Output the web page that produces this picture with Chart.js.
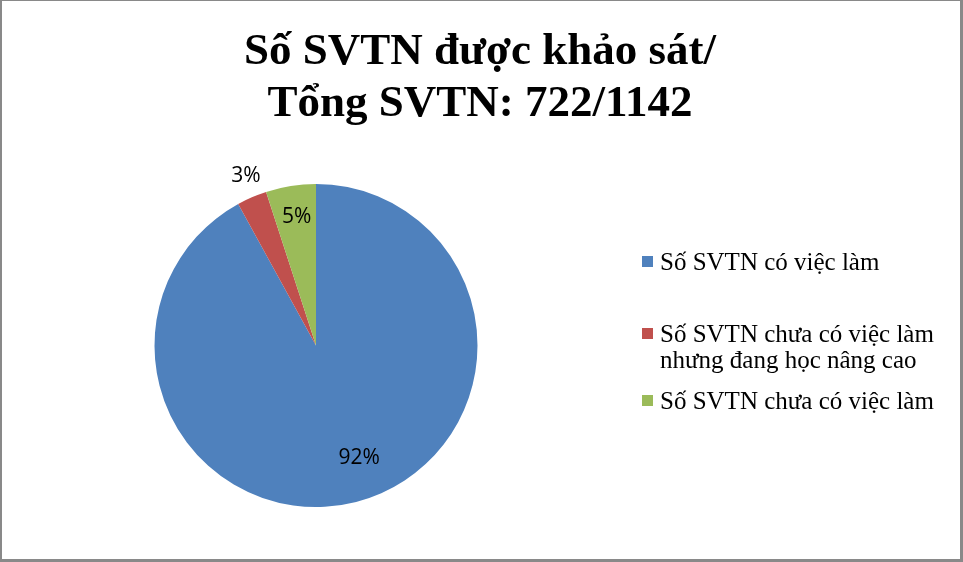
<!DOCTYPE html>
<html>
<head>
<meta charset="utf-8">
<script src="https://cdn.jsdelivr.net/npm/chart.js@4/dist/chart.umd.min.js"></script>
<style>
  html, body { margin: 0; padding: 0; background: #fff; }
  #wrap { width: 963px; height: 562px; position: relative; }
</style>
</head>
<body>
<div id="wrap"><canvas id="c" width="963" height="562"></canvas></div>
<script>
const titleLines = ["Số SVTN được khảo sát/", "Tổng SVTN: 722/1142"];
const categories = ["Số SVTN có việc làm", "Số SVTN chưa có việc làm nhưng đang học nâng cao", "Số SVTN chưa có việc làm"];
const legendLines = [["Số SVTN có việc làm"], ["Số SVTN chưa có việc làm", "nhưng đang học nâng cao"], ["Số SVTN chưa có việc làm"]];
const percentValues = [92, 3, 5];
const sliceColors = ["#4F81BD", "#C0504D", "#9BBB59"];

const decorPlugin = {
  id: 'decor',
  afterDraw(chart) {
    const ctx = chart.ctx;
    ctx.save();
    // border
    ctx.fillStyle = '#898989';
    ctx.fillRect(0, 0, 963, 1);
    ctx.fillRect(0, 0, 2, 562);
    ctx.fillRect(960, 0, 3, 562);
    ctx.fillRect(0, 559, 963, 3);
    // title
    ctx.fillStyle = '#000';
    ctx.textAlign = 'center';
    ctx.textBaseline = 'alphabetic';
    ctx.font = 'bold 45px "Liberation Serif", "Times New Roman", serif';
    ctx.fillText(titleLines[0], 480, 64);
    ctx.fillText(titleLines[1], 480, 116);
    // data labels
    const meta = chart.getDatasetMeta(0);
    const ds = chart.data.datasets[0];
    ctx.font = '21px "Open Sans", "Liberation Sans", sans-serif';
    ctx.textBaseline = 'middle';
    const factors = [0.746, 1.138, 0.805];
    const shiftsDeg = [-6.6, 1.0, 0.4];
    meta.data.forEach((arc, i) => {
      const p = arc.getProps(['x', 'y', 'startAngle', 'endAngle', 'outerRadius'], true);
      const mid = (p.startAngle + p.endAngle) / 2 + shiftsDeg[i] * Math.PI / 180;
      const r = p.outerRadius * factors[i];
      const x = p.x + Math.cos(mid) * r;
      const y = p.y + Math.sin(mid) * r;
      ctx.fillText(ds.data[i] + '%', x, y);
    });
    // legend
    ctx.textAlign = 'left';
    ctx.textBaseline = 'alphabetic';
    ctx.font = '25px "Liberation Serif", "Times New Roman", serif';
    const legendY = [270, 342, 409];
    legendLines.forEach((lines, i) => {
      ctx.fillStyle = sliceColors[i];
      ctx.fillRect(642, legendY[i] - 14, 11, 11);
      ctx.fillStyle = '#000';
      lines.forEach((t, j) => ctx.fillText(t, 660, legendY[i] + j * 26));
    });
    ctx.restore();
  }
};

new Chart(document.getElementById('c'), {
  type: 'pie',
  data: {
    labels: categories,
    datasets: [{
      data: percentValues,
      backgroundColor: sliceColors,
      borderWidth: 0
    }]
  },
  options: {
    responsive: false,
    animation: false,
    layout: { padding: { left: 154.5, right: 485.5, top: 184, bottom: 55 } },
    plugins: { legend: { display: false }, title: { display: false }, tooltip: { enabled: false } }
  },
  plugins: [decorPlugin]
});
</script>
</body>
</html>
